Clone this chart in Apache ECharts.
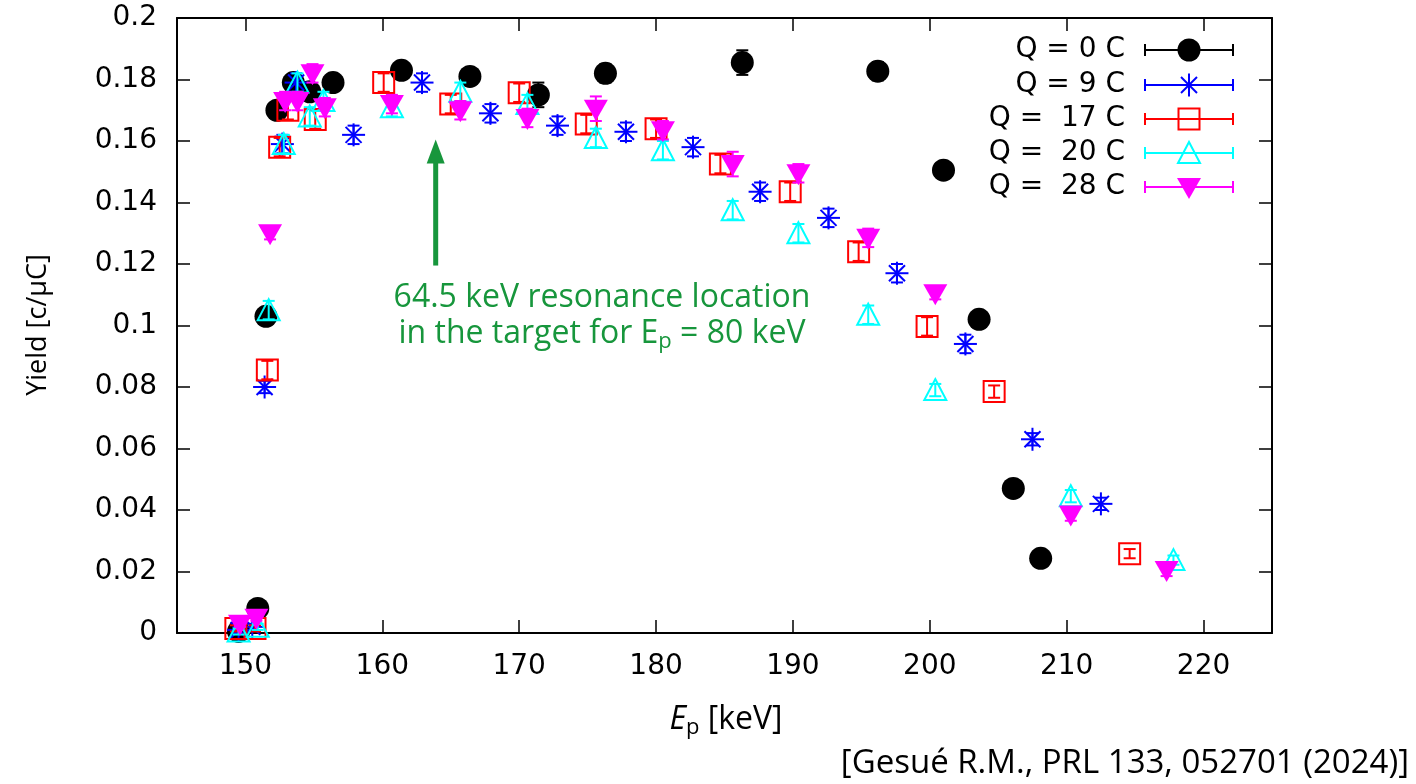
<!DOCTYPE html>
<html>
<head>
<meta charset="utf-8">
<script src="https://cdn.jsdelivr.net/npm/echarts@6/dist/echarts.min.js"></script>
<style>html,body{margin:0;padding:0;background:#fff;}#chart{width:1416px;height:784px;}</style>
</head>
<body>
<div id="chart"></div>
<script>
// ---- data: [E_p keV, yield c/uC, error] ----
const q0 = [
  [149.5, 0.0005, 0.001], [150.9, 0.008, 0.001], [151.5, 0.103, 0.002], [152.3, 0.170, 0.002],
  [153.5, 0.179, 0.002], [154.7, 0.176, 0.002], [156.4, 0.179, 0.002], [161.4, 0.183, 0.002],
  [166.4, 0.181, 0.002], [171.4, 0.175, 0.004], [176.3, 0.182, 0.003], [186.3, 0.1855, 0.004],
  [196.2, 0.1827, 0.003], [201.0, 0.1505, 0.002], [203.6, 0.102, 0.002], [206.1, 0.047, 0.001],
  [208.1, 0.0243, 0.001]
];
const q9 = [
  [149.5, 0.001, 0.001], [150.5, 0.002, 0.001], [151.4, 0.080, 0.002], [152.7, 0.159, 0.003],
  [153.7, 0.179, 0.003], [157.9, 0.162, 0.003], [162.9, 0.179, 0.003], [167.9, 0.169, 0.003],
  [172.8, 0.165, 0.003], [177.8, 0.163, 0.003], [182.7, 0.158, 0.003], [187.6, 0.1435, 0.003],
  [192.6, 0.135, 0.003], [197.6, 0.117, 0.003], [202.6, 0.094, 0.003], [207.5, 0.063, 0.002],
  [212.5, 0.042, 0.002]
];
const q17 = [
  [149.3, 0.0015, 0.001], [150.7, 0.0015, 0.001], [151.6, 0.0855, 0.003], [152.5, 0.158, 0.003],
  [153.1, 0.170, 0.003], [155.1, 0.167, 0.003], [160.1, 0.179, 0.003], [165.0, 0.172, 0.003],
  [170.0, 0.1757, 0.003], [174.9, 0.1655, 0.003], [180.0, 0.164, 0.003], [184.7, 0.1525, 0.003],
  [189.8, 0.1435, 0.003], [194.8, 0.124, 0.003], [199.8, 0.0997, 0.003], [204.7, 0.0785, 0.002],
  [214.6, 0.0258, 0.0015]
];
const q20 = [
  [149.5, 0.0005, 0.001], [150.9, 0.002, 0.001], [151.7, 0.105, 0.003], [152.8, 0.159, 0.003],
  [153.8, 0.179, 0.003], [154.7, 0.168, 0.003], [155.7, 0.173, 0.003], [160.7, 0.171, 0.003],
  [165.7, 0.176, 0.003], [170.6, 0.172, 0.003], [175.6, 0.161, 0.003], [180.5, 0.157, 0.003],
  [185.6, 0.1375, 0.003], [190.4, 0.130, 0.003], [195.5, 0.1035, 0.003], [200.4, 0.079, 0.002],
  [210.3, 0.0445, 0.002], [217.8, 0.0237, 0.0015]
];
const q28 = [
  [149.6, 0.003, 0.001], [150.8, 0.005, 0.001], [151.8, 0.130, 0.002], [152.9, 0.173, 0.003],
  [153.8, 0.173, 0.003], [154.9, 0.182, 0.003], [155.8, 0.171, 0.003], [160.7, 0.172, 0.003],
  [165.7, 0.170, 0.003], [170.6, 0.1675, 0.003], [175.6, 0.1705, 0.004], [180.5, 0.1635, 0.003],
  [185.6, 0.1525, 0.004], [190.4, 0.1495, 0.003], [195.5, 0.1285, 0.003], [200.4, 0.1105, 0.002],
  [210.3, 0.0385, 0.002], [217.3, 0.0205, 0.002]
];
const seriesNames = ['Q = 0 C', 'Q = 9 C', 'Q =  17 C', 'Q =  20 C', 'Q =  28 C'];
const xTicks = [150, 160, 170, 180, 190, 200, 210, 220];
// arrow annotation: [x, y start, y tip]
const arrowData = [[163.9, 0.1195, 0.1605]];
const annotationLines = ['64.5 keV resonance location', 'in the target for E', 'p', ' = 80 keV'];

// ---- styles ----
const colors = ['#000000', '#0000ff', '#ff0000', '#00ffff', '#ff00ff'];
const kinds = ['circle', 'star', 'square', 'tri', 'dtri'];
const green = '#17963c';
const TICK_FONT = 'DejaVu Sans';
const TEXT_FONT = 'Open Sans';

function markerShapes(kind, color, cx, cy) {
  const s = 11.5, lw = 2;
  const ln = (x1, y1, x2, y2) => ({type: 'line', shape: {x1, y1, x2, y2}, style: {stroke: color, lineWidth: lw}});
  if (kind === 'circle') return [{type: 'circle', shape: {cx, cy, r: 11.5}, style: {fill: color}}];
  if (kind === 'star') {
    const d = 8;
    return [ln(cx - s, cy, cx + s, cy), ln(cx, cy - s, cx, cy + s),
            ln(cx - d, cy - d, cx + d, cy + d), ln(cx - d, cy + d, cx + d, cy - d)];
  }
  if (kind === 'square') return [{type: 'rect', shape: {x: cx - s + 1, y: cy - s + 1, width: 2 * s - 2, height: 2 * s - 2}, style: {fill: 'none', stroke: color, lineWidth: lw}}];
  if (kind === 'tri') return [{type: 'polygon', shape: {points: [[cx, cy - 11], [cx + 11, cy + 10], [cx - 11, cy + 10]]}, style: {fill: 'none', stroke: color, lineWidth: lw}}];
  if (kind === 'dtri') return [{type: 'polygon', shape: {points: [[cx - 12, cy - 9], [cx + 12, cy - 9], [cx, cy + 12]]}, style: {fill: color}}];
  return [];
}

function makeRender(kind, color) {
  return function (params, api) {
    const x = api.value(0), y = api.value(1), e = api.value(2);
    const p = api.coord([x, y]);
    const t = api.coord([x, y + e]);
    const b = api.coord([x, y - e]);
    const cw = 6;
    const st = {stroke: color, lineWidth: 2};
    const children = [
      {type: 'line', shape: {x1: p[0], y1: t[1], x2: p[0], y2: b[1]}, style: st},
      {type: 'line', shape: {x1: p[0] - cw, y1: t[1], x2: p[0] + cw, y2: t[1]}, style: st},
      {type: 'line', shape: {x1: p[0] - cw, y1: b[1], x2: p[0] + cw, y2: b[1]}, style: st}
    ].concat(markerShapes(kind, color, p[0], p[1]));
    return {type: 'group', children};
  };
}

const datasets = [q0, q9, q17, q20, q28];
const series = datasets.map((d, i) => ({
  type: 'custom', name: seriesNames[i], xAxisIndex: 0, yAxisIndex: 0,
  data: d, encode: {x: 0, y: 1}, clip: false, silent: true,
  renderItem: makeRender(kinds[i], colors[i]), z: 10 + i
}));
series.unshift({
  type: 'custom', name: 'arrow', data: arrowData, xAxisIndex: 0, yAxisIndex: 0, silent: true, z: 5,
  encode: {x: 0, y: [1, 2]},
  renderItem: function (params, api) {
    const a = api.coord([api.value(0), api.value(1)]);
    const tip = api.coord([api.value(0), api.value(2)]);
    const hl = 24, hw = 9;
    return {type: 'group', children: [
      {type: 'line', shape: {x1: a[0], y1: a[1], x2: tip[0], y2: tip[1] + hl - 2}, style: {stroke: green, lineWidth: 5}},
      {type: 'polygon', shape: {points: [[tip[0], tip[1]], [tip[0] + hw, tip[1] + hl], [tip[0] - hw, tip[1] + hl]]}, style: {fill: green}}
    ]};
  }
});

// legend drawn as graphic
const legendGraphics = [];
const legRows = [50, 85, 119, 153, 187];
seriesNames.forEach((nm, i) => {
  const y = legRows[i], c = colors[i];
  const x1 = 1145, x2 = 1233, xm = 1189;
  legendGraphics.push({type: 'text', x: 1125, y: y,
    style: {text: nm, fill: '#000', font: '28px "DejaVu Sans"', textAlign: 'right', textVerticalAlign: 'middle'}});
  const st = {stroke: c, lineWidth: 2};
  legendGraphics.push({type: 'line', shape: {x1, y1: y, x2, y2: y}, style: st});
  legendGraphics.push({type: 'line', shape: {x1, y1: y - 6, x2: x1, y2: y + 6}, style: st});
  legendGraphics.push({type: 'line', shape: {x1: x2, y1: y - 6, x2: x2, y2: y + 6}, style: st});
  markerShapes(kinds[i], c, xm, y).forEach(m => legendGraphics.push(m));
});

const axisLine = {show: true, onZero: false, lineStyle: {color: '#000', width: 2}};
const tickStyle = {color: '#000', width: 1.5};

const option = {
  animation: false,
  backgroundColor: '#fff',
  grid: {left: 177, right: 144, top: 18, bottom: 151, containLabel: false},
  xAxis: [
    {type: 'value', min: 145, max: 225, position: 'bottom', axisLine,
     axisTick: {inside: true, length: 13, customValues: xTicks, lineStyle: tickStyle},
     axisLabel: {customValues: xTicks, fontSize: 28, fontFamily: TICK_FONT, color: '#000', margin: 20},
     splitLine: {show: false}},
    {type: 'value', min: 145, max: 225, position: 'top', axisLine,
     axisTick: {inside: true, length: 13, customValues: xTicks, lineStyle: tickStyle},
     axisLabel: {show: false}, splitLine: {show: false}}
  ],
  yAxis: [
    {type: 'value', min: 0, max: 0.2, interval: 0.02, position: 'left', axisLine,
     axisTick: {inside: true, length: 13, lineStyle: tickStyle},
     axisLabel: {fontSize: 28, fontFamily: TICK_FONT, color: '#000', margin: 20,
                 formatter: v => String(+v.toFixed(2))},
     splitLine: {show: false}},
    {type: 'value', min: 0, max: 0.2, interval: 0.02, position: 'right', axisLine,
     axisTick: {inside: true, length: 13, lineStyle: tickStyle},
     axisLabel: {show: false}, splitLine: {show: false}}
  ],
  series,
  graphic: legendGraphics.concat([
    {type: 'text', x: 38, y: 325, rotation: Math.PI / 2,
     style: {text: 'Yield [c/μC]', font: '27px "Open Sans"', fill: '#000', textAlign: 'center', textVerticalAlign: 'middle'}},
    {type: 'text', x: 726, y: 720,
     style: {text: '{i|E}{s|p} [keV]', textAlign: 'center', textVerticalAlign: 'middle', fill: '#000',
       font: '32px "Open Sans"',
       rich: {i: {fontStyle: 'italic', fontSize: 32, fontFamily: TEXT_FONT}, s: {fontSize: 22, fontFamily: TEXT_FONT, padding: [16, 0, 0, 0]}}}},
    {type: 'text', x: 1409, y: 764,
     style: {text: '[Gesué R.M., PRL 133, 052701 (2024)]', font: '33px "Open Sans"', fill: '#000', textAlign: 'right', textVerticalAlign: 'middle'}},
    {type: 'text', x: 602, y: 298,
     style: {text: annotationLines[0], font: '32px "Open Sans"', fill: green, textAlign: 'center', textVerticalAlign: 'middle'}},
    {type: 'text', x: 602, y: 334,
     style: {text: annotationLines[1] + '{s|' + annotationLines[2] + '}' + annotationLines[3], font: '32px "Open Sans"', fill: green,
       textAlign: 'center', textVerticalAlign: 'middle',
       rich: {s: {fontSize: 22, fontFamily: TEXT_FONT, fill: green, padding: [16, 0, 0, 0]}}}}
  ])
};

const chart = echarts.init(document.getElementById('chart'), null, {renderer: 'canvas'});
chart.setOption(option);
</script>
</body>
</html>
